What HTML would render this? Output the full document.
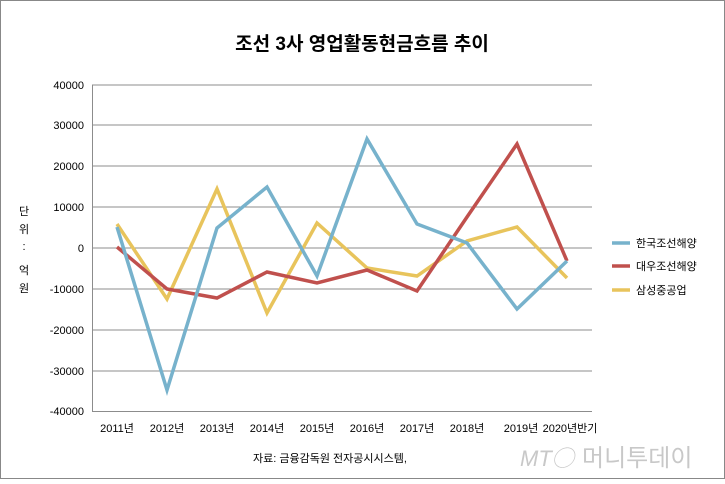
<!DOCTYPE html>
<html><head><meta charset="utf-8"><style>
body{margin:0;background:#fff;}
text{font-family:"Liberation Sans","Noto Sans CJK KR",sans-serif;}
</style></head><body>
<svg width="725" height="479" xmlns="http://www.w3.org/2000/svg">
<rect x="0.5" y="0.5" width="724" height="478" fill="#fff" stroke="#888"/>
<text x="362" y="50" font-size="19" font-weight="bold" text-anchor="middle" fill="#000" font-family="'Noto Serif CJK SC',serif">조선 3사 영업활동현금흐름 추이</text>
<g stroke="#8c8c8c" stroke-width="1">
<line x1="92" y1="85" x2="592" y2="85"/><line x1="92" y1="125" x2="592" y2="125"/>
<line x1="92" y1="166" x2="592" y2="166"/><line x1="92" y1="207" x2="592" y2="207"/>
<line x1="92" y1="248" x2="592" y2="248"/><line x1="92" y1="289" x2="592" y2="289"/>
<line x1="92" y1="330" x2="592" y2="330"/><line x1="92" y1="371" x2="592" y2="371"/>
<line x1="92" y1="411.5" x2="592" y2="411.5"/><line x1="92.5" y1="85" x2="92.5" y2="412"/>
</g>
<g font-size="11" text-anchor="end" fill="#000">
<text x="84" y="89">40000</text><text x="84" y="129">30000</text><text x="84" y="170">20000</text>
<text x="84" y="211">10000</text><text x="84" y="252">0</text><text x="84" y="293">-10000</text>
<text x="84" y="334">-20000</text><text x="84" y="375">-30000</text><text x="84" y="415">-40000</text>
</g>
<g font-size="11" fill="#000" text-anchor="middle">
<text x="24" y="215">단</text><text x="24" y="233">위</text><text x="24" y="250">:</text>
<text x="24" y="274">억</text><text x="24" y="292">원</text>
</g>
<g font-size="11" text-anchor="middle" fill="#000">
<text x="117" y="432">2011년</text><text x="167" y="432">2012년</text><text x="217" y="432">2013년</text>
<text x="267" y="432">2014년</text><text x="317" y="432">2015년</text><text x="367" y="432">2016년</text>
<text x="417" y="432">2017년</text><text x="467" y="432">2018년</text><text x="521" y="432">2019년</text>
<text x="570" y="432">2020년반기</text>
</g>
<text x="330" y="462" font-size="11" text-anchor="middle" fill="#000">자료: 금융감독원 전자공시시스템,</text>
<text x="520" y="466" font-size="22" fill="#c8c8c8" font-style="italic">MT◯</text>
<text x="582" y="466" font-size="24" fill="#c8c8c8">머니투데이</text>
<g fill="none" stroke-width="3.5" stroke-linejoin="miter">
<polyline stroke="#e8c45c" points="117,224 167,299 217,189 267,313 317,223 367,268 417,276 467,241 517,227 567,278"/>
<polyline stroke="#c0504d" points="117,247 167,289 217,298 267,272 317,283 367,270 417,291 467,217 517,144 567,261"/>
<polyline stroke="#77b2cc" points="117,227 167,390 217,228 267,187 317,276 367,139 417,224 467,243 517,309 567,261"/>
</g>
<g font-size="11" fill="#000">
<line x1="612" y1="243" x2="630" y2="243" stroke="#77b2cc" stroke-width="3.5"/><text x="636" y="247">한국조선해양</text>
<line x1="612" y1="266" x2="630" y2="266" stroke="#c0504d" stroke-width="3.5"/><text x="636" y="270">대우조선해양</text>
<line x1="612" y1="290" x2="630" y2="290" stroke="#e8c45c" stroke-width="3.5"/><text x="636" y="294">삼성중공업</text>
</g>
</svg>
</body></html>
